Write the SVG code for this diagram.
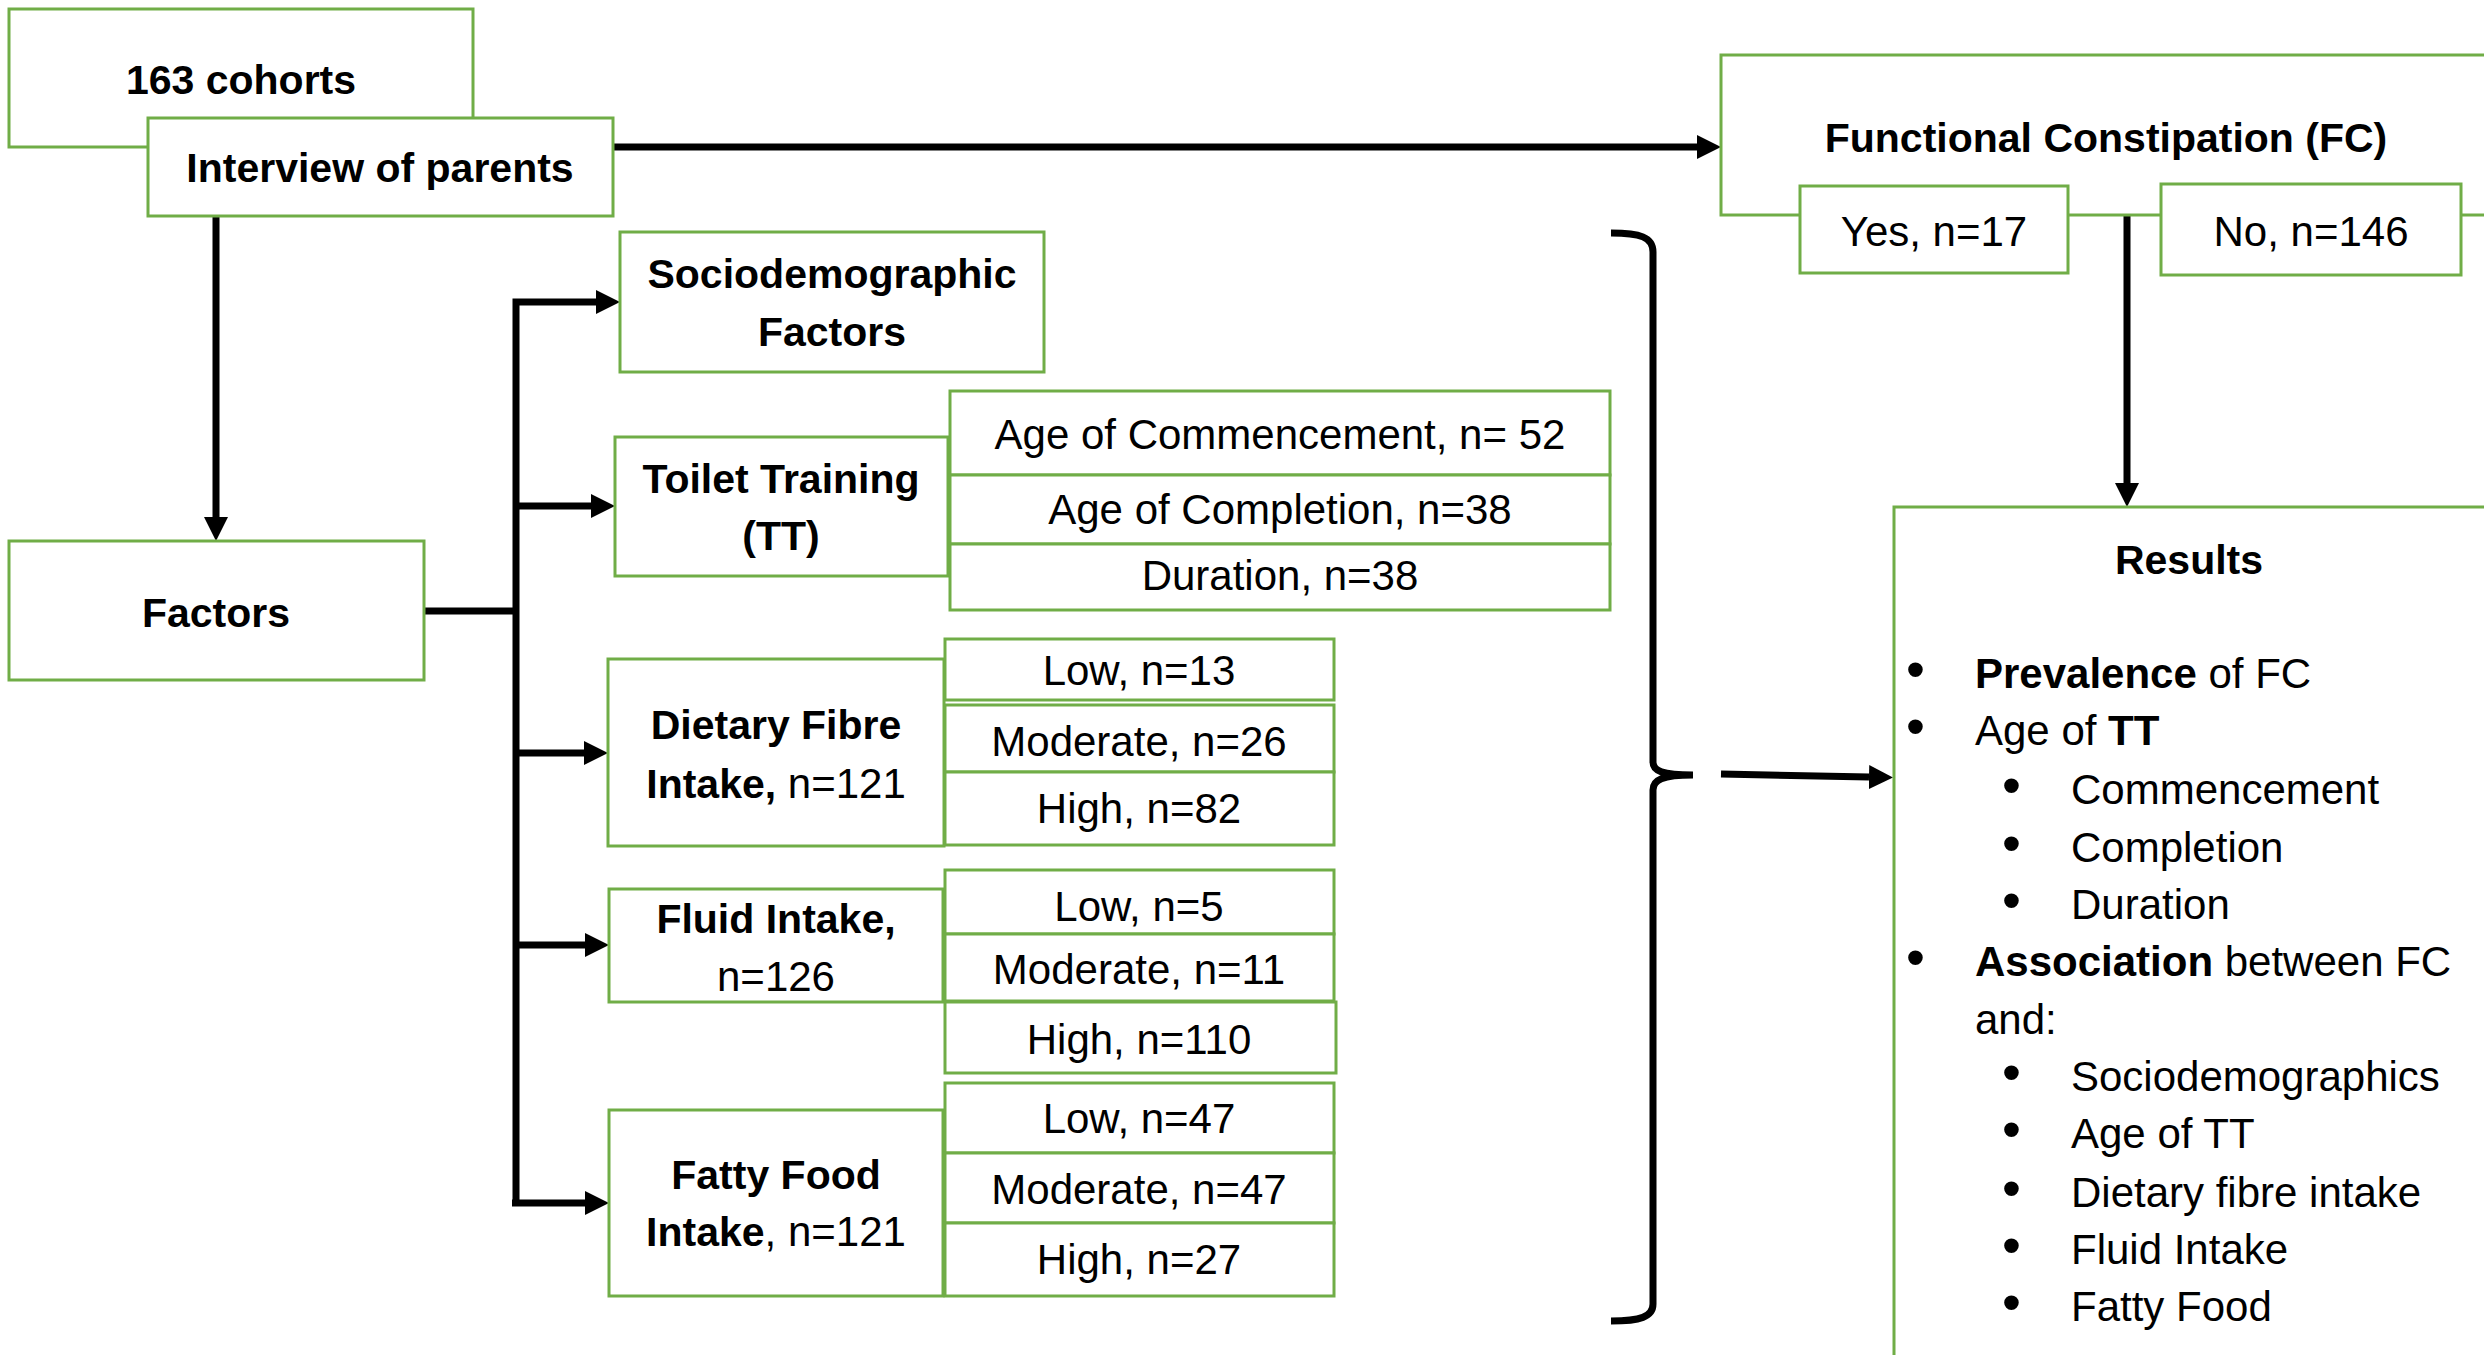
<svg xmlns="http://www.w3.org/2000/svg" width="2484" height="1355" viewBox="0 0 2484 1355">
<defs>
<style>
.box{fill:#fff;stroke:#70AD47;stroke-width:3}
.t{font-family:"Liberation Sans",Arial,sans-serif;font-size:42px;fill:#000;text-anchor:middle}
.b{font-weight:bold;font-size:41px}
.l{font-family:"Liberation Sans",Arial,sans-serif;font-size:42px;fill:#000}
.c{fill:none;stroke:#000;stroke-width:7}
.d{fill:#000}
</style>
<marker id="ah" markerUnits="userSpaceOnUse" markerWidth="24" markerHeight="24" refX="0" refY="12" orient="auto" viewBox="0 0 24 24">
<path d="M0,0 L24,12 L0,24 Z" fill="#000"/>
</marker>
</defs>
<rect width="2484" height="1355" fill="#fff"/>

<g id="connectors">
<path class="c" d="M613,147 H1697" marker-end="url(#ah)"/>
<path class="c" d="M216,216 V517" marker-end="url(#ah)"/>
<path class="c" d="M424,611 H516"/>
<path class="c" d="M516,1203 V302 H596" marker-end="url(#ah)"/>
<path class="c" d="M516,506 H591" marker-end="url(#ah)"/>
<path class="c" d="M516,753 H584" marker-end="url(#ah)"/>
<path class="c" d="M516,945 H585" marker-end="url(#ah)"/>
<path class="c" d="M512,1203 H585" marker-end="url(#ah)"/>
<path class="c" d="M2127,215 V483" marker-end="url(#ah)"/>
<path class="c" stroke-width="6" d="M1611,233 C1640,233 1653,237 1653,252 L1653,762 C1653,771 1662,775 1693,775 M1693,775 C1662,775 1653,780 1653,790 L1653,1304 C1653,1317 1640,1321 1611,1321"/>
<path class="c" d="M1721,774 L1869,777" marker-end="url(#ah)"/>
</g>

<g id="cohorts">
<rect class="box" x="9" y="9" width="464" height="138"/>
<text class="t b" x="241" y="94">163 cohorts</text>
</g>
<g id="interview">
<rect class="box" x="148" y="118" width="465" height="98"/>
<text class="t b" x="380" y="182">Interview of parents</text>
</g>

<g id="fc">
<rect class="box" x="1721" y="55" width="900" height="160"/>
<text class="t b" x="2106" y="152">Functional Constipation (FC)</text>
</g>
<g id="fc-yes">
<rect class="box" x="1800" y="186" width="268" height="87"/>
<text class="t" font-size="40" x="1934" y="246">Yes, n=17</text>
</g>
<g id="fc-no">
<rect class="box" x="2161" y="184" width="300" height="91"/>
<text class="t" font-size="40" x="2311" y="246">No, n=146</text>
</g>

<g id="factors">
<rect class="box" x="9" y="541" width="415" height="139"/>
<text class="t b" x="216" y="627">Factors</text>
</g>

<g id="socio">
<rect class="box" x="620" y="232" width="424" height="140"/>
<text class="t b" x="832" y="288">Sociodemographic</text>
<text class="t b" x="832" y="346">Factors</text>
</g>

<g id="tt">
<rect class="box" x="615" y="437" width="333" height="139"/>
<text class="t b" x="781" y="493">Toilet Training</text>
<text class="t b" x="781" y="550">(TT)</text>
</g>
<g id="tt-commencement">
<rect class="box" x="950" y="391" width="660" height="84"/>
<text class="t" x="1280" y="449">Age of Commencement, n= 52</text>
</g>
<g id="tt-completion">
<rect class="box" x="950" y="475" width="660" height="69"/>
<text class="t" x="1280" y="524">Age of Completion, n=38</text>
</g>
<g id="tt-duration">
<rect class="box" x="950" y="544" width="660" height="66"/>
<text class="t" x="1280" y="590">Duration, n=38</text>
</g>

<g id="fibre">
<rect class="box" x="608" y="659" width="336" height="187"/>
<text class="t b" x="776" y="739">Dietary Fibre</text>
<text class="t" x="776" y="798"><tspan class="b">Intake,</tspan> n=121</text>
</g>
<g id="fibre-low">
<rect class="box" x="945" y="639" width="389" height="61"/>
<text class="t" x="1139" y="685">Low, n=13</text>
</g>
<g id="fibre-moderate">
<rect class="box" x="945" y="705" width="389" height="67"/>
<text class="t" x="1139" y="756">Moderate, n=26</text>
</g>
<g id="fibre-high">
<rect class="box" x="945" y="772" width="389" height="73"/>
<text class="t" x="1139" y="823">High, n=82</text>
</g>

<g id="fluid">
<rect class="box" x="609" y="889" width="334" height="113"/>
<text class="t b" x="776" y="933">Fluid Intake,</text>
<text class="t" x="776" y="991">n=126</text>
</g>
<g id="fluid-low">
<rect class="box" x="945" y="870" width="389" height="64"/>
<text class="t" x="1139" y="921">Low, n=5</text>
</g>
<g id="fluid-moderate">
<rect class="box" x="945" y="934" width="389" height="67"/>
<text class="t" x="1139" y="984">Moderate, n=11</text>
</g>
<g id="fluid-high">
<rect class="box" x="945" y="1002" width="391" height="71"/>
<text class="t" x="1139" y="1054">High, n=110</text>
</g>

<g id="fatty">
<rect class="box" x="609" y="1110" width="334" height="186"/>
<text class="t b" x="776" y="1189">Fatty Food</text>
<text class="t" x="776" y="1246"><tspan class="b">Intake</tspan>, n=121</text>
</g>
<g id="fatty-low">
<rect class="box" x="945" y="1083" width="389" height="70"/>
<text class="t" x="1139" y="1133">Low, n=47</text>
</g>
<g id="fatty-moderate">
<rect class="box" x="945" y="1153" width="389" height="70"/>
<text class="t" x="1139" y="1204">Moderate, n=47</text>
</g>
<g id="fatty-high">
<rect class="box" x="945" y="1223" width="389" height="73"/>
<text class="t" x="1139" y="1274">High, n=27</text>
</g>

<g id="results">
<rect class="box" x="1894" y="507" width="700" height="900"/>
<text class="t b" font-size="39" x="2189" y="574">Results</text>
<g class="l">
<text x="1906" y="688" font-size="54">•</text><text x="1975" y="688"><tspan font-weight="bold">Prevalence</tspan> of FC</text>
<text x="1906" y="745" font-size="54">•</text><text x="1975" y="745">Age of <tspan font-weight="bold">TT</tspan></text>
<text x="2002" y="804" font-size="54">•</text><text x="2071" y="804">Commencement</text>
<text x="2002" y="862" font-size="54">•</text><text x="2071" y="862">Completion</text>
<text x="2002" y="919" font-size="54">•</text><text x="2071" y="919">Duration</text>
<text x="1906" y="976" font-size="54">•</text><text x="1975" y="976"><tspan font-weight="bold">Association</tspan> between FC</text>
<text x="1975" y="1034">and:</text>
<text x="2002" y="1091" font-size="54">•</text><text x="2071" y="1091">Sociodemographics</text>
<text x="2002" y="1148" font-size="54">•</text><text x="2071" y="1148">Age of TT</text>
<text x="2002" y="1207" font-size="54">•</text><text x="2071" y="1207">Dietary fibre intake</text>
<text x="2002" y="1264" font-size="54">•</text><text x="2071" y="1264">Fluid Intake</text>
<text x="2002" y="1321" font-size="54">•</text><text x="2071" y="1321">Fatty Food</text>
</g>
</g>
</svg>
